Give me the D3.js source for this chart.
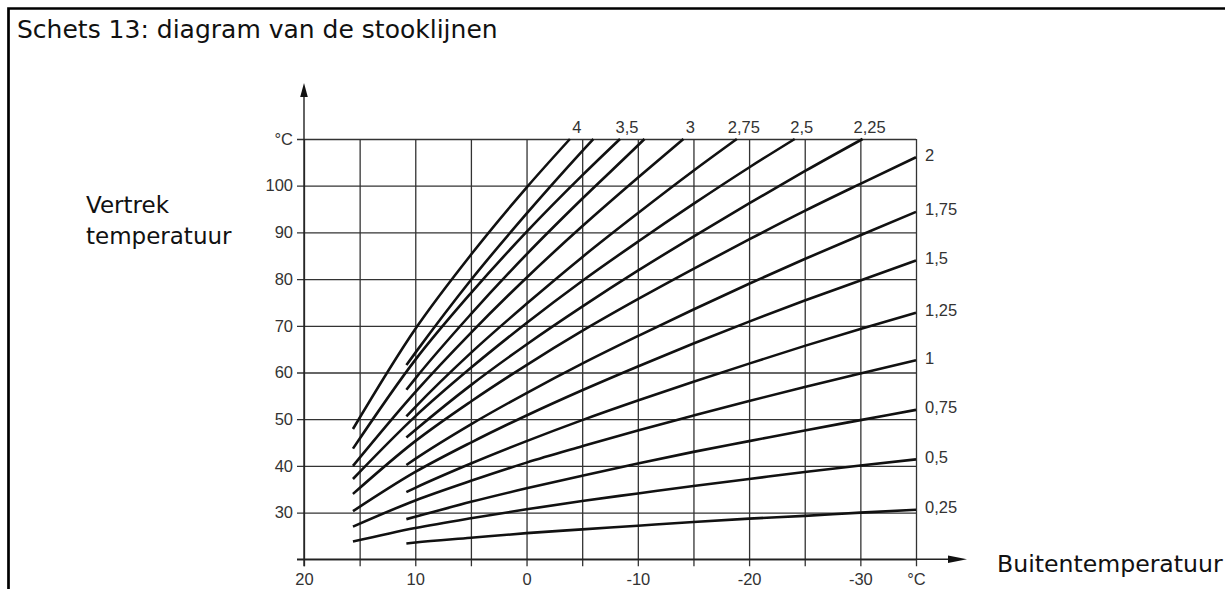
<!DOCTYPE html>
<html>
<head>
<meta charset="utf-8">
<script src="https://cdn.jsdelivr.net/npm/d3@7"></script>
<style>
  body { margin: 0; background: #fff; }
  svg { display: block; }
</style>
</head>
<body>
<div id="chart"></div>
<script>
// stooklijnen: [buitentemperatuur, vertrektemperatuur]
var c025 = [[10.8,23.4],[10,23.6],[5,24.6],[0,25.6],[-5,26.4],[-10,27.2],[-15,28.0],[-20,28.7],[-25,29.3],[-30,30.0],[-35,30.6]];
var c050 = [[15.6,23.8],[10,26.7],[5,28.8],[0,30.7],[-5,32.5],[-10,34.1],[-15,35.7],[-20,37.2],[-25,38.7],[-30,40.1],[-35,41.4]];
var c075 = [[10.8,28.6],[10,29.1],[5,32.3],[0,35.2],[-5,37.9],[-10,40.5],[-15,43.0],[-20,45.3],[-25,47.6],[-30,49.8],[-35,52.0]];
var c100 = [[15.6,27.0],[10,32.6],[5,36.8],[0,40.7],[-5,44.2],[-10,47.6],[-15,50.8],[-20,53.9],[-25,56.9],[-30,59.8],[-35,62.6]];
var c125 = [[10.8,34.4],[10,35.3],[5,40.5],[0,45.3],[-5,49.8],[-10,54.0],[-15,58.0],[-20,61.9],[-25,65.7],[-30,69.3],[-35,72.8]];
var c150 = [[15.6,30.3],[10,38.7],[5,45.0],[0,50.8],[-5,56.2],[-10,61.3],[-15,66.2],[-20,70.9],[-25,75.4],[-30,79.7],[-35,84.0]];
var c175 = [[10.8,40.2],[10,41.5],[5,48.9],[0,55.6],[-5,61.9],[-10,67.8],[-15,73.5],[-20,79.0],[-25,84.3],[-30,89.4],[-35,94.4]];
var c200 = [[15.6,34.0],[10,45.3],[5,53.8],[0,61.6],[-5,68.9],[-10,75.7],[-15,82.2],[-20,88.5],[-25,94.6],[-30,100.4],[-35,106.1]];
var c225 = [[10.8,46.1],[10,47.7],[5,57.3],[0,66.0],[-5,74.1],[-10,81.8],[-15,89.1],[-20,96.2],[-25,103.1],[-30.2,110]];
var c250 = [[15.6,37.2],[10,50.6],[5,61.0],[0,70.6],[-5,79.6],[-10,88.0],[-15,96.1],[-20,103.9],[-24.1,110]];
var c275 = [[10.8,50.6],[10,52.6],[5,64.2],[0,74.7],[-5,84.7],[-10,94.1],[-15,103.2],[-18.9,110]];
var c300 = [[15.6,40.0],[10,55.8],[5,68.5],[0,80.3],[-5,91.3],[-10,101.7],[-14.1,110]];
var c325 = [[10.8,56.3],[10,58.7],[5,72.5],[0,85.3],[-5,97.2],[-10,108.6],[-10.6,110]];
var c350 = [[15.6,43.7],[10,62.7],[5,77.0],[0,90.1],[-5,102.2],[-8.4,110]];
var c375 = [[10.8,61.6],[10,64.2],[5,79.8],[0,94.0],[-5,107.4],[-6.0,110]];
var c400 = [[15.6,47.9],[10,69.3],[5,85.2],[0,99.6],[-3.9,110]];

var curves = [c025, c050, c075, c100, c125, c150, c175, c200, c225, c250, c275, c300, c325, c350, c375, c400];
// "" = curve without a label in the sketch
var curveLabels = ["0,25","0,5","0,75","1","1,25","1,5","1,75","2","2,25","2,5","2,75","3","","3,5","","4"];

var xTicks = [20, 15, 10, 5, 0, -5, -10, -15, -20, -25, -30, -35];
var xLabels = ["20", "", "10", "", "0", "", "-10", "", "-20", "", "-30", "°C"];
var yTicks = [20, 30, 40, 50, 60, 70, 80, 90, 100, 110];
var yLabels = ["", "30", "40", "50", "60", "70", "80", "90", "100", "°C"];

var width = 1225, height = 589;
var svg = d3.select("#chart").append("svg")
    .attr("width", width)
    .attr("height", height);

// frame of the sketch
svg.append("path")
    .attr("d", "M8.5," + height + "V8.5H" + width)
    .attr("fill", "none")
    .attr("stroke", "#000")
    .attr("stroke-width", 2.7);

svg.append("text")
    .attr("x", 17)
    .attr("y", 38)
    .attr("font-family", "'DejaVu Sans', sans-serif")
    .attr("font-size", "25px")
    .attr("fill", "#111")
    .text("Schets 13: diagram van de stooklijnen");

var x = d3.scaleLinear().domain([20, -35]).range([304, 916]);
var y = d3.scaleLinear().domain([20, 110]).range([559.3, 139]);
var tick = 7;
var gridColor = "#333";
var labelFont = "'Liberation Sans', Arial, sans-serif";

// horizontal grid + y labels
var yAxis = d3.axisLeft(y)
    .tickValues(yTicks)
    .tickSize(-(x(-35) - x(20) + tick))
    .tickPadding(4)
    .tickFormat(function(d, i) { return yLabels[i]; });

var gy = svg.append("g")
    .attr("transform", "translate(" + (x(20) - tick) + ",0)")
    .call(yAxis);

// vertical grid + x labels
var xAxis = d3.axisBottom(x)
    .tickValues(xTicks)
    .tickSize(-(y(20) - y(110) + tick))
    .tickPadding(7)
    .tickFormat(function(d, i) { return xLabels[i]; });

var gx = svg.append("g")
    .attr("transform", "translate(0," + (y(20) + tick) + ")")
    .call(xAxis);

[gx, gy].forEach(function(g) {
    g.select(".domain").remove();
    g.selectAll(".tick line")
        .attr("stroke", gridColor)
        .attr("stroke-width", 1.3);
    g.selectAll(".tick text")
        .attr("font-family", labelFont)
        .attr("font-size", "16.5px")
        .attr("fill", "#333");
});

// axis lines with arrows
svg.append("line")
    .attr("x1", x(20)).attr("y1", y(20) + tick)
    .attr("x2", x(20)).attr("y2", 92)
    .attr("stroke", "#222").attr("stroke-width", 1.4);
svg.append("path")
    .attr("d", "M" + x(20) + ",83L" + (x(20) + 3.8) + ",97L" + (x(20) - 3.8) + ",97Z")
    .attr("fill", "#111");

svg.append("line")
    .attr("x1", x(20) - tick).attr("y1", y(20))
    .attr("x2", 952).attr("y2", y(20))
    .attr("stroke", "#222").attr("stroke-width", 1.4);
svg.append("path")
    .attr("d", "M967," + y(20) + "L948," + (y(20) - 3.8) + "L948," + (y(20) + 3.8) + "Z")
    .attr("fill", "#111");

// curves
var line = d3.line()
    .x(function(d) { return x(d[0]); })
    .y(function(d) { return y(d[1]); })
    .curve(d3.curveMonotoneX);

svg.append("g")
    .selectAll("path")
    .data(curves)
    .enter().append("path")
    .attr("d", line)
    .attr("fill", "none")
    .attr("stroke", "#111")
    .attr("stroke-width", 2.6);

// curve labels: above the top line or right of the -35 line
svg.append("g")
    .selectAll("text")
    .data(curves)
    .enter().append("text")
    .attr("font-family", labelFont)
    .attr("font-size", "16.5px")
    .attr("fill", "#333")
    .attr("dominant-baseline", "central")
    .attr("text-anchor", function(d) { return d[d.length - 1][1] >= 110 ? "middle" : "start"; })
    .attr("x", function(d) {
        var end = d[d.length - 1];
        return end[1] >= 110 ? x(end[0]) + 7 : x(-35) + 9;
    })
    .attr("y", function(d) {
        var end = d[d.length - 1];
        return end[1] >= 110 ? y(110) - 12 : y(end[1]) - 2.5;
    })
    .text(function(d, i) { return curveLabels[i]; });

// axis titles
var titleFont = "'DejaVu Sans', sans-serif";
svg.append("text")
    .attr("x", 86).attr("y", 213)
    .attr("font-family", titleFont).attr("font-size", "23px").attr("fill", "#111")
    .text("Vertrek");
svg.append("text")
    .attr("x", 86).attr("y", 244)
    .attr("font-family", titleFont).attr("font-size", "23px").attr("fill", "#111")
    .text("temperatuur");
svg.append("text")
    .attr("x", 997).attr("y", 572)
    .attr("font-family", titleFont).attr("font-size", "23.6px").attr("fill", "#111")
    .text("Buitentemperatuur");
</script>
</body>
</html>
